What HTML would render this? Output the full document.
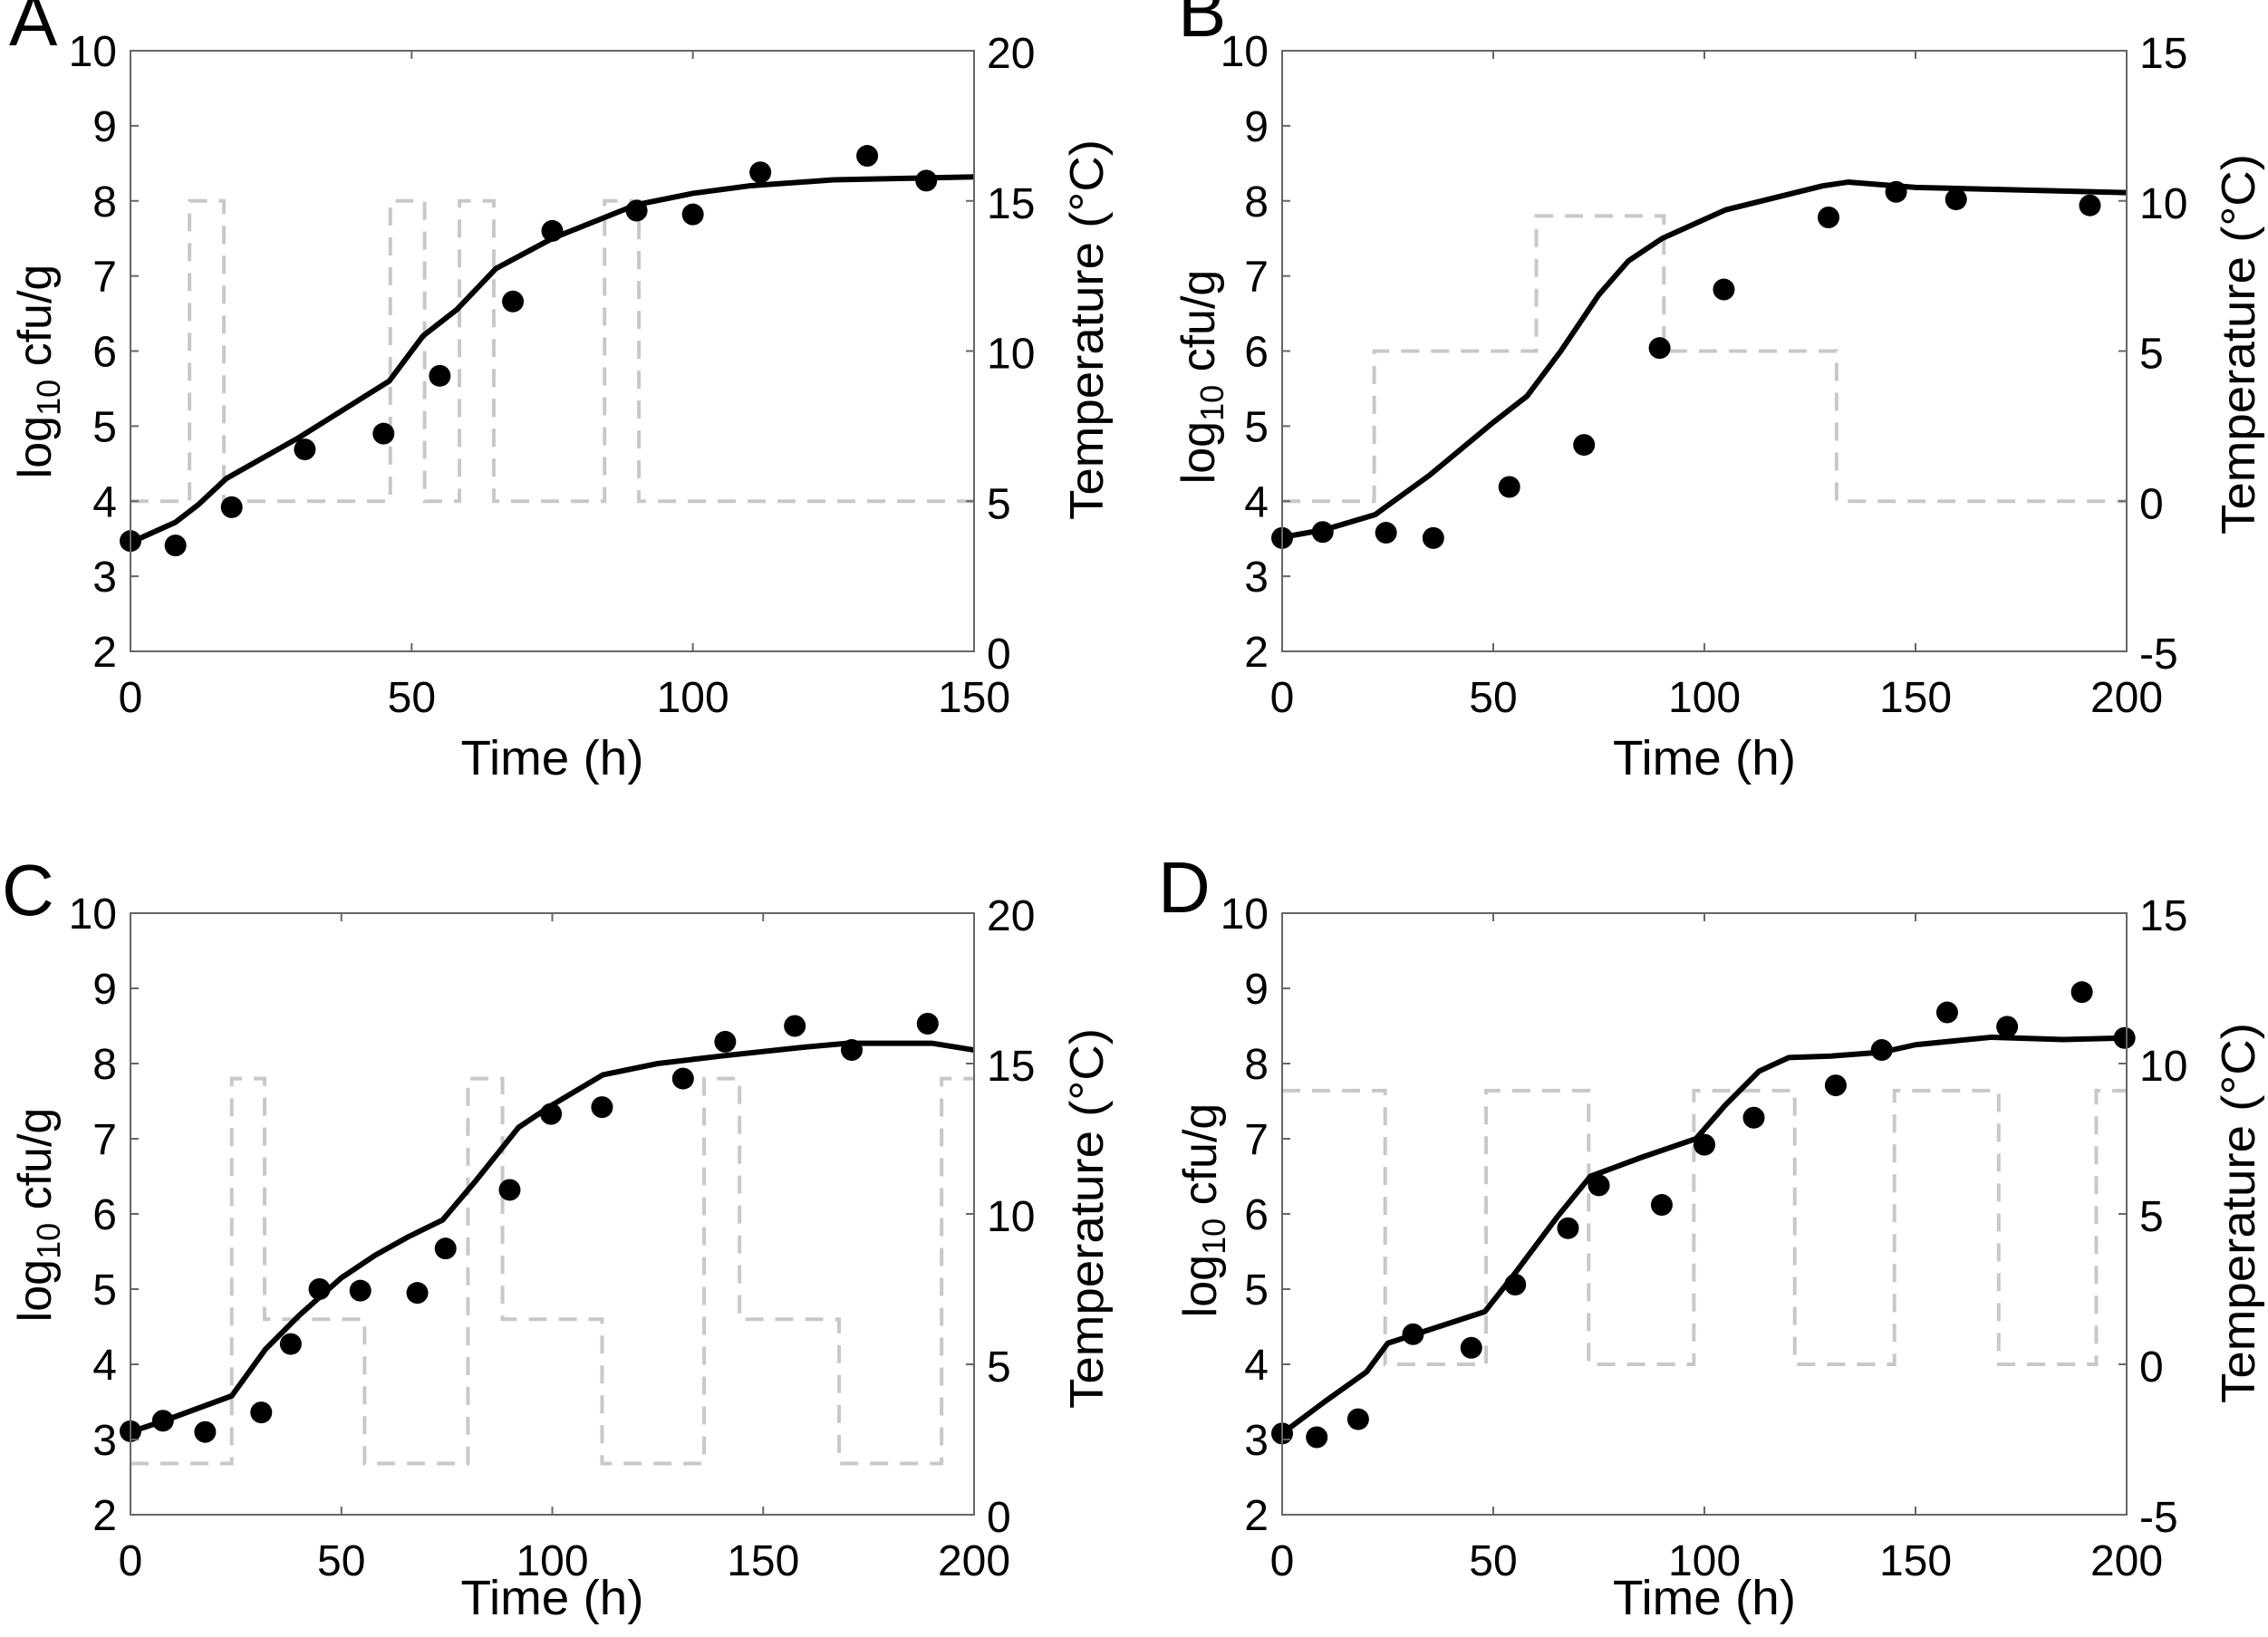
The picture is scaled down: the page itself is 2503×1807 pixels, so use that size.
<!DOCTYPE html>
<html><head><meta charset="utf-8"><style>
html,body{margin:0;padding:0;background:#fff;}
svg text{font-family:"Liberation Sans",Arial,sans-serif;fill:#000;}
</style></head><body>
<svg id="fig" width="2503" height="1802" viewBox="0 0 2503 1802" xmlns="http://www.w3.org/2000/svg"></svg>
<script>
// ---- Panel A data ----
const aObsT=[0,8,18,31,45,55,68,75,90,100,112,131,141.5];
const aObsY=[3.47,3.41,3.92,4.69,4.90,5.67,6.66,7.60,7.87,7.82,8.38,8.60,8.27];
const aFitT=[0,8,12,17,30,46,52,58,65,75,90,100,110,125,150];
const aFitY=[3.45,3.72,3.95,4.3,4.85,5.6,6.2,6.55,7.1,7.5,7.95,8.1,8.2,8.28,8.32];
const aTempT=[0,10.5,16.6,46.2,52.3,58.5,64.6,84.3,90.4,150];
const aTempV=[5,15,5,15,5,15,5,15,5];
// ---- Panel B data ----
const bObsT=[0,9.6,24.6,35.8,53.8,71.5,89.4,104.6,129.4,145.4,159.6,191.3];
const bObsY=[3.51,3.59,3.58,3.51,4.19,4.75,6.04,6.82,7.78,8.12,8.02,7.94];
const bFitT=[0,10,22,35,50,58,66,75,82,90,105,128,134,150,200];
const bFitY=[3.52,3.62,3.82,4.35,5.05,5.4,6.0,6.75,7.2,7.5,7.88,8.2,8.25,8.18,8.11];
const bTempT=[0,21.8,60.2,90.4,131.3,200];
const bTempV=[0,5,9.5,5,0];
// ---- Panel C data ----
const cObsT=[0,7.7,17.7,31,38,44.8,54.5,68,74.7,89.9,99.7,111.8,131,141,157.5,171,189];
const cObsY=[3.11,3.25,3.1,3.36,4.27,5.0,4.98,4.95,5.54,6.32,7.33,7.42,7.8,8.29,8.5,8.18,8.53];
const cFitT=[0,8,24,32,40,50,58,66,74,82,92,100,112,125,140,160,170,190,200];
const cFitY=[3.1,3.25,3.58,4.2,4.65,5.15,5.45,5.7,5.92,6.45,7.15,7.45,7.85,8.0,8.1,8.22,8.27,8.27,8.18];
const cTempT=[0,24,31.8,55.5,80,88.2,111.8,136,144.4,168,192.3,200];
const cTempV=[1.7,14.5,6.5,1.7,14.5,6.5,1.7,14.5,6.5,1.7,14.5];
// ---- Panel D data ----
const dObsT=[0,8.2,18,31,44.8,55.2,67.7,75,89.9,100,111.7,131.1,142,157.5,171.7,189.4,199.5];
const dObsY=[3.08,3.03,3.27,4.40,4.22,5.06,5.81,6.38,6.12,6.92,7.28,7.71,8.18,8.68,8.49,8.95,8.34];
const dFitT=[0,10,20,25,48,55,65,73,85,98,105,113,120,130,142,150,168,185,200];
const dFitY=[3.08,3.5,3.9,4.28,4.7,5.2,5.95,6.5,6.75,7.0,7.45,7.9,8.08,8.1,8.15,8.25,8.35,8.32,8.34];
const dTempT=[0,24.4,48.3,72.6,97.5,121.4,145,169.7,192.8,200];
const dTempV=[9.1,0,9.1,0,9.1,0,9.1,0,9.1];
// ---- tick labels ----
const yTicks=[2,3,4,5,6,7,8,9,10];
const xTicksA=[0,50,100,150];
const xTicks200=[0,50,100,150,200];
const tTicks20=[0,5,10,15,20];
const tTicks15=[-5,0,5,10,15];

const NS='http://www.w3.org/2000/svg';
const svg=document.getElementById('fig');
function mk(tag,attrs,parent){const e=document.createElementNS(NS,tag);for(const k in attrs)e.setAttribute(k,attrs[k]);(parent||svg).appendChild(e);return e;}

function panel(cfg){
  const g=mk('g',{});
  
  
  const x0=cfg.x0,x1=cfg.x1,y0=cfg.y0,y1=cfg.y1;
  const sx=t=>x0+(t-cfg.xmin)/(cfg.xmax-cfg.xmin)*(x1-x0);
  const sy=v=>y1-(v-2)/8*(y1-y0);
  const st=v=>y1-(v-cfg.tmin)/(cfg.tmax-cfg.tmin)*(y1-y0);
  let d='';
  for(let i=0;i<cfg.tv.length;i++){
    const xa=sx(cfg.tt[i]),xb=sx(cfg.tt[i+1]),yy=st(cfg.tv[i]);
    d+=(i===0?'M':'L')+xa+' '+yy+' L'+xb+' '+yy+' ';
  }
  const tp=mk('path',{d:d,fill:'none',stroke:'#c8c8c8','stroke-width':4,'stroke-dasharray':'20 13'},g);
  
  
  let fd='';
  cfg.ft.forEach((t,i)=>{fd+=(i?'L':'M')+sx(t)+' '+sy(cfg.fy[i])+' ';});
  const fl=mk('path',{d:fd,fill:'none',stroke:'#000','stroke-width':6,'stroke-linejoin':'round'},g);
  
  
  cfg.ot.forEach((t,i)=>{
    const c=mk('circle',{cx:sx(t),cy:sy(cfg.oy[i]),r:12,fill:'#000'},g);
    
    
  });
  const bx=mk('rect',{x:x0,y:y0,width:x1-x0,height:y1-y0,fill:'none',stroke:'#666','stroke-width':2},g);
  
  
  yTicks.forEach(v=>{
    const y=sy(v);
    mk('line',{x1:x0,y1:y,x2:x0+9,y2:y,stroke:'#666','stroke-width':2},g);
    const t=mk('text',{x:x0-15,y:y+17,'font-size':48,'text-anchor':'end'},g);
    t.textContent=v;
    
    
  });
  cfg.xticks.forEach(v=>{
    const x=sx(v);
    mk('line',{x1:x,y1:y1,x2:x,y2:y1-9,stroke:'#666','stroke-width':2},g);
    mk('line',{x1:x,y1:y0,x2:x,y2:y0+9,stroke:'#666','stroke-width':2},g);
    const t=mk('text',{x:x,y:y1+67,'font-size':48,'text-anchor':'middle'},g);
    t.textContent=v;
    
    
  });
  cfg.tticks.forEach(v=>{
    const y=st(v);
    mk('line',{x1:x1,y1:y,x2:x1-9,y2:y,stroke:'#666','stroke-width':2},g);
    const t=mk('text',{x:x1+14,y:y+19,'font-size':48,'text-anchor':'start'},g);
    t.textContent=v;
    
    
  });
  const xl=mk('text',{x:(x0+x1)/2,y:cfg.xlabY,'font-size':54,'text-anchor':'middle',textLength:202,lengthAdjust:'spacingAndGlyphs'},g);
  xl.textContent='Time (h)';
  
  
  const yl=mk('text',{x:0,y:0,'font-size':52,'text-anchor':'middle',transform:'translate('+cfg.ylx+','+cfg.yly+') rotate(-90)'},g);
  yl.innerHTML='log<tspan font-size="36" dy="10">10</tspan><tspan dy="-10"> cfu/g</tspan>';
  
  
  const tl=mk('text',{x:0,y:0,'font-size':52,'text-anchor':'middle',textLength:420,lengthAdjust:'spacingAndGlyphs',transform:'translate('+cfg.tlx+','+cfg.tly+') rotate(-90)'},g);
  tl.textContent='Temperature (°C)';
  
  
  const lt=mk('text',{x:cfg.lx,y:cfg.ly,'font-size':80},g);
  lt.textContent=cfg.id;
  
  
}

panel({id:'A',x0:144,x1:1075,y0:56,y1:719,xmin:0,xmax:150,tmin:0,tmax:20,xticks:xTicksA,tticks:tTicks20,
  ot:aObsT,oy:aObsY,ft:aFitT,fy:aFitY,tt:aTempT,tv:aTempV,xlabY:855,ylx:56,yly:410,tlx:1217,tly:364,lx:10,ly:50});
panel({id:'B',x0:1415,x1:2347,y0:56,y1:719,xmin:0,xmax:200,tmin:-5,tmax:15,xticks:xTicks200,tticks:tTicks15,
  ot:bObsT,oy:bObsY,ft:bFitT,fy:bFitY,tt:bTempT,tv:bTempV,xlabY:855,ylx:1340,yly:416,tlx:2488,tly:380,lx:1300,ly:40});
panel({id:'C',x0:144,x1:1075,y0:1008,y1:1672,xmin:0,xmax:200,tmin:0,tmax:20,xticks:xTicks200,tticks:tTicks20,
  ot:cObsT,oy:cObsY,ft:cFitT,fy:cFitY,tt:cTempT,tv:cTempV,xlabY:1782,ylx:56,yly:1341,tlx:1217,tly:1345,lx:2,ly:1010});
panel({id:'D',x0:1415,x1:2347,y0:1008,y1:1672,xmin:0,xmax:200,tmin:-5,tmax:15,xticks:xTicks200,tticks:tTicks15,
  ot:dObsT,oy:dObsY,ft:dFitT,fy:dFitY,tt:dTempT,tv:dTempV,xlabY:1782,ylx:1342,yly:1336,tlx:2488,tly:1339,lx:1278,ly:1007});
</script>
</body></html>
